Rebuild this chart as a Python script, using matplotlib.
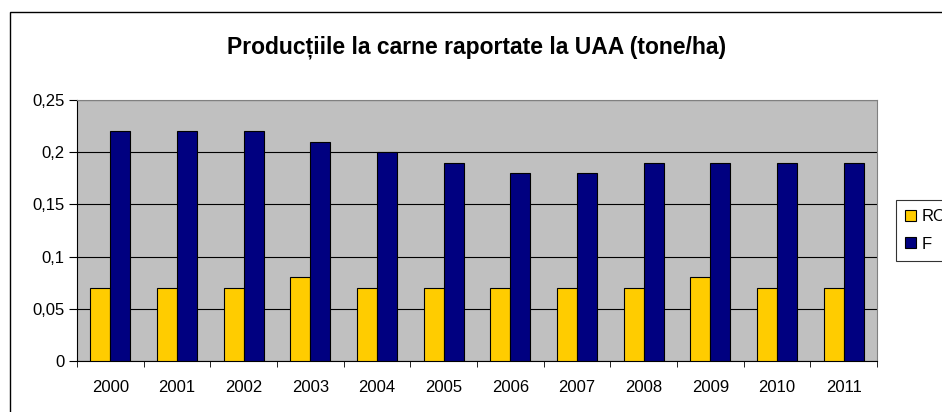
import numpy as np
import matplotlib
matplotlib.use("Agg")
import matplotlib.pyplot as plt
from matplotlib.patches import Rectangle
from matplotlib.ticker import FuncFormatter

years = ["2000", "2001", "2002", "2003", "2004", "2005",
         "2006", "2007", "2008", "2009", "2010", "2011"]
ro = [0.07, 0.07, 0.07, 0.08, 0.07, 0.07, 0.07, 0.07, 0.07, 0.08, 0.07, 0.07]
fr = [0.22, 0.22, 0.22, 0.21, 0.20, 0.19, 0.18, 0.18, 0.19, 0.19, 0.19, 0.19]
series_names = ["RO", "F"]

plt.rcParams['font.family'] = ['Liberation Sans', 'DejaVu Sans']

fig = plt.figure(figsize=(9.42, 4.12), dpi=100)
W, H = 942, 412

# outer chart border (runs off the right/bottom edge like the source)
fig.patches.append(Rectangle((10 / W, -0.1), 1.0, 1 - 12 / H + 0.1,
                             transform=fig.transFigure, fill=False,
                             edgecolor="black", linewidth=1.0))

ax = fig.add_axes([77 / W, 1 - 361 / H, 800 / W, 261 / H])
ax.set_facecolor("#C0C0C0")

x = np.arange(len(years))
w = 0.3
ax.bar(x - w / 2, ro, w, color="#FFCC00", edgecolor="black", linewidth=0.8,
       label=series_names[0], zorder=3)
ax.bar(x + w / 2, fr, w, color="#000080", edgecolor="black", linewidth=0.8,
       label=series_names[1], zorder=3)

ax.set_xlim(-0.5, len(years) - 0.5)
ax.set_ylim(0, 0.25)
ax.set_yticks(np.arange(0, 0.2501, 0.05))
ax.yaxis.set_major_formatter(FuncFormatter(
    lambda v, p: ("%g" % round(v, 2)).replace(".", ",")))
ax.yaxis.grid(True, color="black", linewidth=0.8, zorder=1)
ax.set_axisbelow(True)

ax.set_xticks(x)
ax.set_xticklabels(years)
ax.set_xticks(np.arange(-0.5, len(years)), minor=True)
ax.tick_params(axis="x", which="major", length=0, pad=14, labelsize=12)
ax.tick_params(axis="x", which="minor", length=4, direction="out")
ax.tick_params(axis="y", length=6, pad=3, direction="out", labelsize=12)

for s in ["top", "right"]:
    ax.spines[s].set_color("#808080")
for s in ["left", "bottom"]:
    ax.spines[s].set_color("black")

fig.text((77 + 877) / 2 / W, 1 - 47 / H,
         "Producțiile la carne raportate la UAA (tone/ha)",
         ha="center", va="center", fontsize=16.5, fontweight="bold")

# legend box sits at the right edge and is clipped there, as in the source
leg = fig.legend(loc="upper left", bbox_to_anchor=(896 / W, 1 - 200 / H),
                 fontsize=12, frameon=True, fancybox=False,
                 handlelength=0.65, handleheight=0.65, handletextpad=0.35,
                 borderpad=0.55, labelspacing=0.75, borderaxespad=0)
leg.get_frame().set_edgecolor("black")
leg.get_frame().set_linewidth(0.8)

fig.savefig("out.png", dpi=100)
